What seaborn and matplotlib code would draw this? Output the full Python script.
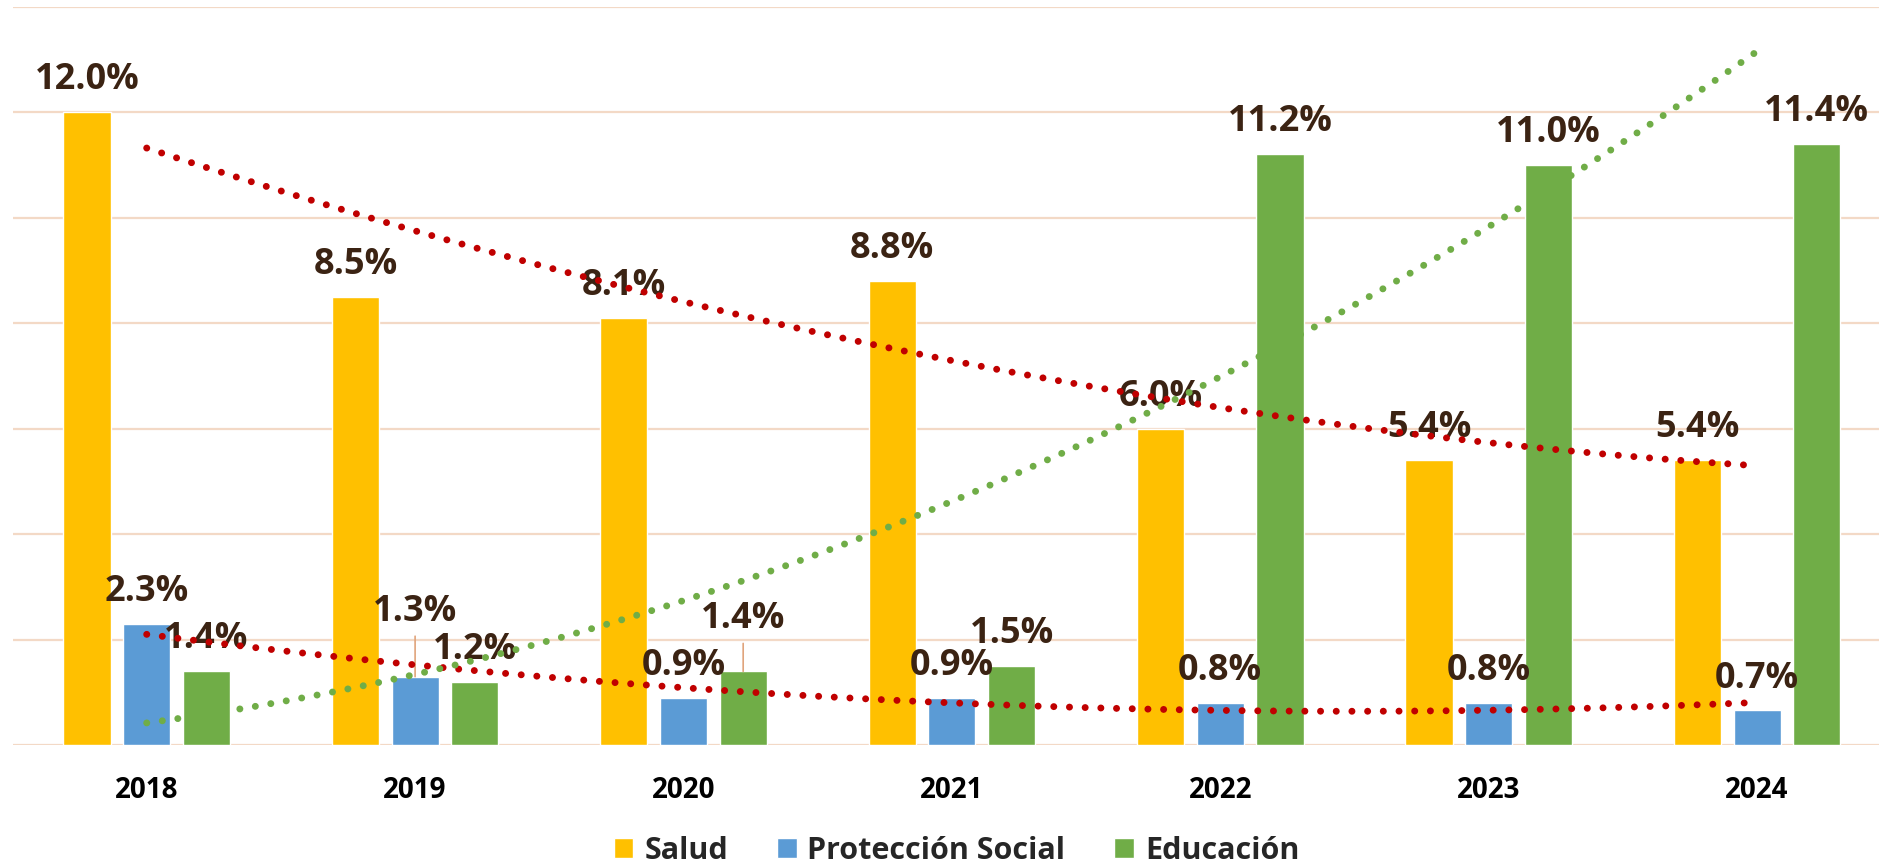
import pandas as pd
import seaborn as sns
import matplotlib
matplotlib.use("Agg")
import matplotlib.pyplot as plt

years = ["2018", "2019", "2020", "2021", "2022", "2023", "2024"]
salud = [12.0, 8.5, 8.1, 8.8, 6.0, 5.4, 5.4]
proteccion = [2.3, 1.3, 0.9, 0.9, 0.8, 0.8, 0.66]
educacion = [1.4, 1.2, 1.4, 1.5, 11.2, 11.0, 11.4]
series = ["Salud", "Protección Social", "Educación"]
colors = ["#FFC000", "#5B9BD5", "#70AD47"]

sns.set_theme(style="white")
plt.rcParams["font.family"] = ["Open Sans", "DejaVu Sans"]
plt.rcParams["font.weight"] = "bold"

df = pd.DataFrame({
    "year": years * 3,
    "value": salud + proteccion + educacion,
    "serie": [s for s in series for _ in years],
})

fig = plt.figure(figsize=(18.79, 8.66), dpi=100)
ax = fig.add_axes([12.5 / 1879, 0.1394, 1 - 12.5 / 1879, 0.853])

sns.barplot(data=df, x="year", y="value", hue="serie", palette=colors,
            width=0.667, gap=0.21, saturation=1, ax=ax, zorder=2)

label_color = "#3B2313"
# labels moved up by hand in the original, with leader lines
moved = {(1, 1): 40, (2, 2): 31, (3, 2): 29}
for si, cont in enumerate(ax.containers):
    for yi, bar in enumerate(cont):
        h = bar.get_height()
        x = bar.get_x() + bar.get_width() / 2
        off = moved.get((si, yi), 16.5)
        arrow = None
        if (si, yi) in moved:
            arrow = dict(arrowstyle="-", color="#E0A47C", lw=1.2, shrinkB=0)
        ax.annotate(f"{h:.1f}%", xy=(x, h), xytext=(0, off), textcoords="offset points",
                    ha="center", va="baseline", fontsize=26, fontweight="bold",
                    color=label_color, zorder=3, arrowprops=arrow)

# polynomial (order 2) trend lines, as in the original
xs = list(range(len(years)))
trend_colors = ["#C00000", "#C00000", "#70AD47"]
for vals, c in zip([salud, proteccion, educacion], trend_colors):
    sns.regplot(x=xs, y=vals, order=2, scatter=False, ci=None, ax=ax,
                line_kws=dict(color=c, linewidth=5, ls=(0, (0.01, 2.25)),
                              dash_capstyle="round", zorder=4))

ax.set_xlim(-0.5, -0.5 + (1879 - 12.5) / 268.4)
ax.set_ylim(0, 14)
ax.set_yticks(range(0, 15, 2))
ax.yaxis.grid(True, color="#F3D9C6", lw=1.6)
ax.set_axisbelow(True)
ax.tick_params(axis="y", left=False, labelleft=False)
ax.tick_params(axis="x", bottom=False, pad=16, labelsize=20, labelcolor="black")
for t in ax.get_xticklabels():
    t.set_fontweight("bold")
for s in ax.spines.values():
    s.set_visible(False)
ax.set_xlabel("")
ax.set_ylabel("")

ax.get_legend().remove()
handles, labels = ax.get_legend_handles_labels()
fig.legend(handles[:3], labels[:3], loc="center", bbox_to_anchor=(0.509, 0.0173),
           ncol=3, frameon=False, prop=dict(size=22, weight="bold"),
           handlelength=0.65, handleheight=0.65, handletextpad=0.35, columnspacing=1.6)

fig.savefig("out.png", dpi=100)
